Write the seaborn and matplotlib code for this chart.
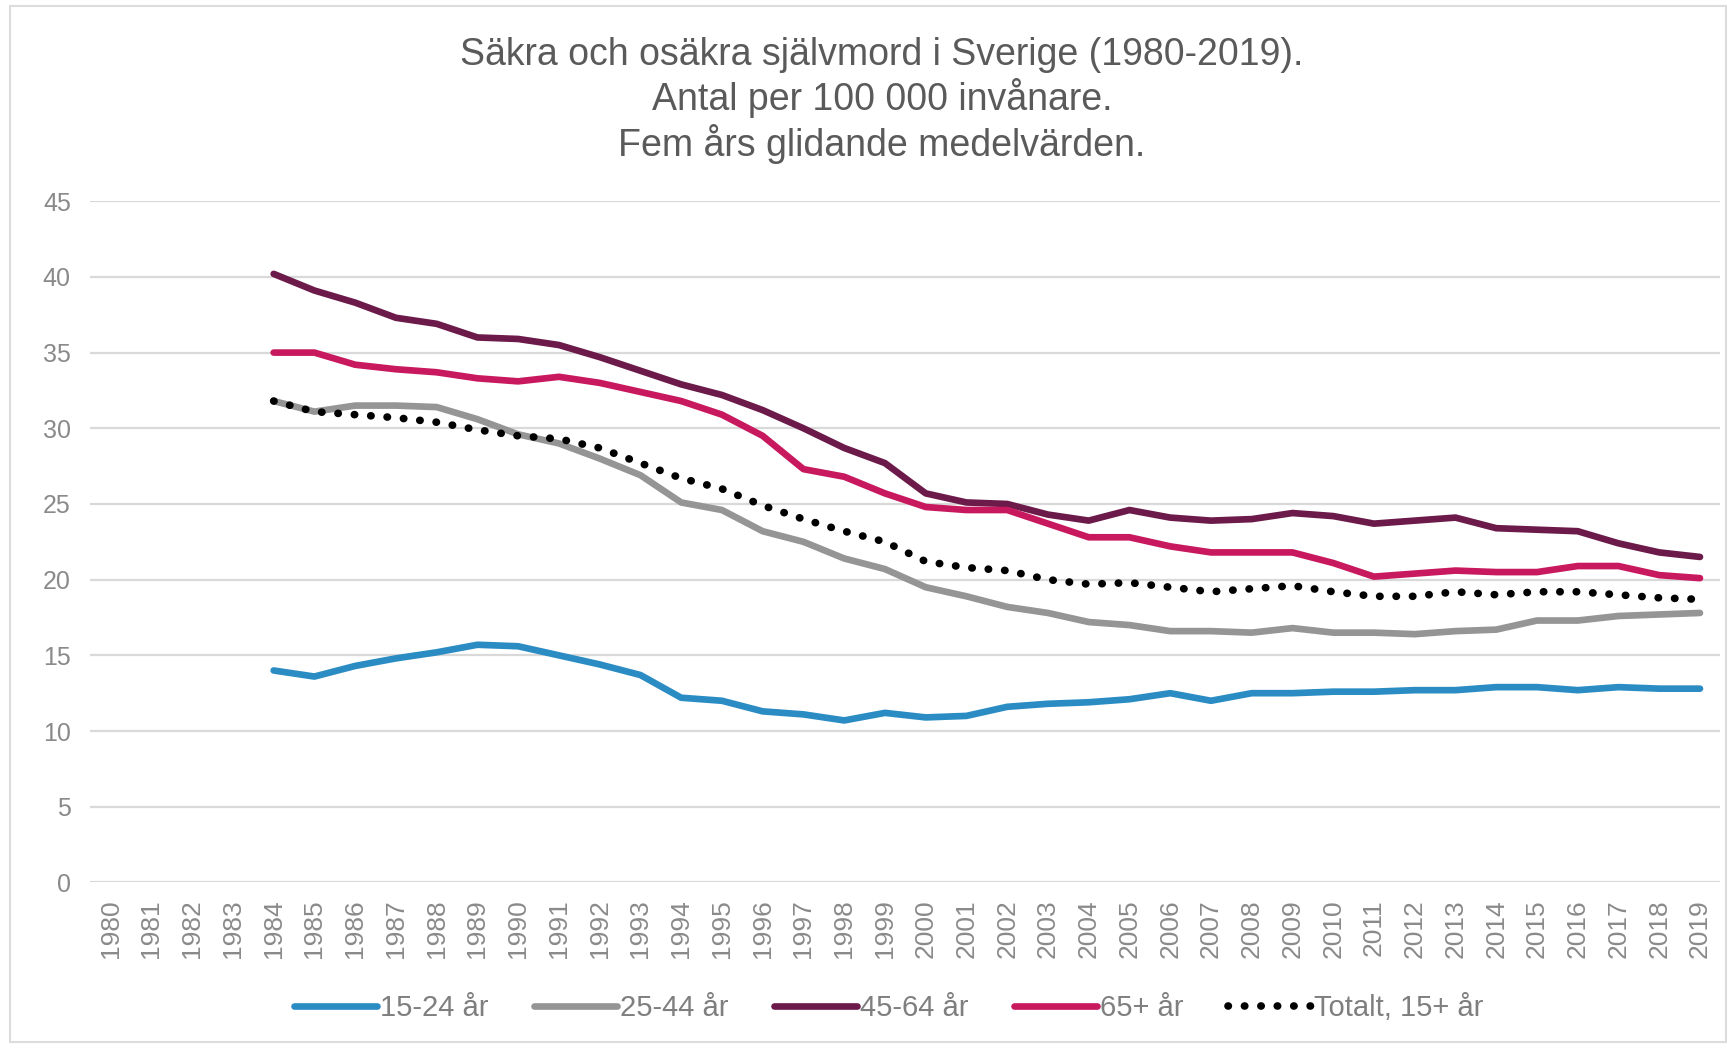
import numpy as np
import pandas as pd
import matplotlib
matplotlib.use("Agg")
import matplotlib.pyplot as plt
import seaborn as sns

years = list(range(1984, 2020))
all_years = list(range(1980, 2020))

s_15_24 = [14.0, 13.6, 14.3, 14.8, 15.2, 15.7, 15.6, 15.0, 14.4, 13.7, 12.2, 12.0,
           11.3, 11.1, 10.7, 11.2, 10.9, 11.0, 11.6, 11.8, 11.9, 12.1, 12.5, 12.0,
           12.5, 12.5, 12.6, 12.6, 12.7, 12.7, 12.9, 12.9, 12.7, 12.9, 12.8, 12.8]
s_25_44 = [31.8, 31.1, 31.5, 31.5, 31.4, 30.6, 29.6, 29.0, 28.0, 26.9, 25.1, 24.6,
           23.2, 22.5, 21.4, 20.7, 19.5, 18.9, 18.2, 17.8, 17.2, 17.0, 16.6, 16.6,
           16.5, 16.8, 16.5, 16.5, 16.4, 16.6, 16.7, 17.3, 17.3, 17.6, 17.7, 17.8]
s_45_64 = [40.2, 39.1, 38.3, 37.3, 36.9, 36.0, 35.9, 35.5, 34.7, 33.8, 32.9, 32.2,
           31.2, 30.0, 28.7, 27.7, 25.7, 25.1, 25.0, 24.3, 23.9, 24.6, 24.1, 23.9,
           24.0, 24.4, 24.2, 23.7, 23.9, 24.1, 23.4, 23.3, 23.2, 22.4, 21.8, 21.5]
s_65 = [35.0, 35.0, 34.2, 33.9, 33.7, 33.3, 33.1, 33.4, 33.0, 32.4, 31.8, 30.9,
        29.5, 27.3, 26.8, 25.7, 24.8, 24.6, 24.6, 23.7, 22.8, 22.8, 22.2, 21.8,
        21.8, 21.8, 21.1, 20.2, 20.4, 20.6, 20.5, 20.5, 20.9, 20.9, 20.3, 20.1]
s_total = [31.8, 31.1, 30.9, 30.7, 30.4, 29.9, 29.5, 29.3, 28.7, 27.7, 26.7, 26.0,
           24.9, 24.0, 23.2, 22.5, 21.2, 20.8, 20.6, 20.0, 19.7, 19.8, 19.5, 19.2,
           19.4, 19.6, 19.2, 18.9, 18.9, 19.2, 19.0, 19.2, 19.2, 19.0, 18.8, 18.7]

labels = ["15-24 år", "25-44 år", "45-64 år", "65+ år", "Totalt, 15+ år"]
colors = ["#2B8CC4", "#959595", "#6B1A4A", "#C8195F", "#000000"]

series = [s_15_24, s_25_44, s_45_64, s_65, s_total]
df = pd.DataFrame({
    "year": np.tile(years, len(labels)),
    "value": np.concatenate(series),
    "group": np.repeat(labels, len(years)),
})

sns.set_theme(style="white")
plt.rcParams["font.family"] = ["Liberation Sans", "DejaVu Sans"]

fig = plt.figure(figsize=(17.36, 10.48), dpi=100)
ax = fig.add_axes([0.052, 0.158, 0.939, 0.650])

for lab, col in zip(labels, colors):
    sub = df[df["group"] == lab]
    if lab.startswith("Totalt"):
        sns.lineplot(data=sub, x="year", y="value", ax=ax, color=col, lw=5.5,
                     linestyle=(0, (0.05, 2.1)), dash_capstyle="round",
                     solid_capstyle="round", label=lab)
    else:
        sns.lineplot(data=sub, x="year", y="value", ax=ax, color=col, lw=4.8,
                     solid_capstyle="round", label=lab)

ax.set_xlim(1979.5, 2019.5)
ax.set_ylim(0, 45)
ax.set_yticks(range(0, 46, 5))
ax.set_xticks(all_years)
ax.set_xticklabels([str(y) for y in all_years], rotation=90)
ax.tick_params(axis="x", labelsize=19, colors="#8a8a8a", length=0, pad=12)
ax.tick_params(axis="y", labelsize=18, colors="#8a8a8a", length=0, pad=14)
ax.grid(axis="y", color="#d9d9d9", lw=1.6)
ax.grid(axis="x", visible=False)
for sp in ax.spines.values():
    sp.set_visible(False)
ax.set_xlabel("")
ax.set_ylabel("")

fig.text(0.508, 0.965, "Säkra och osäkra självmord i Sverige (1980-2019).\nAntal per 100 000 invånare.\nFem års glidande medelvärden.",
         ha="center", va="top", fontsize=27, color="#5a5a5a", linespacing=1.18)

leg = ax.legend(loc="center", bbox_to_anchor=(0.49, -0.184), ncol=5, frameon=False,
                fontsize=21, handlelength=2.85, handletextpad=0.1, columnspacing=1.55,
                labelcolor="#7f7f7f")

border = plt.Rectangle((0.006, 0.006), 0.988, 0.988, transform=fig.transFigure,
                       fill=False, edgecolor="#dcdcdc", lw=1.5)
fig.patches.append(border)

fig.savefig("out.png", dpi=100, facecolor="white")
